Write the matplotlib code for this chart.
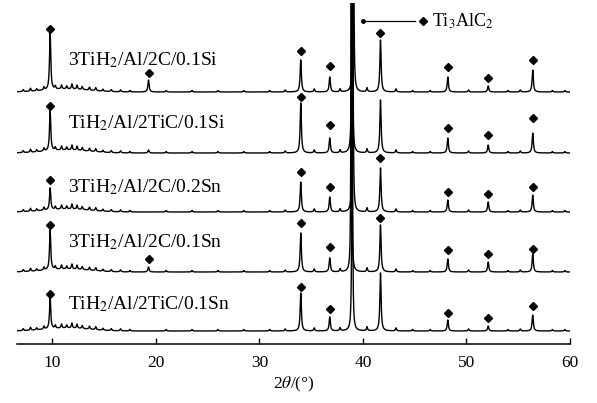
import numpy as np
import matplotlib.pyplot as plt

plt.rcParams['font.family'] = ['Liberation Serif', 'DejaVu Serif']
plt.rcParams['mathtext.fontset'] = 'stix'

# peak positions (2theta, deg) of Ti3AlC2
peak_pos = [9.8, 19.3, 34.0, 36.8, 41.7, 48.2, 52.1, 56.4]

samples = ['3TiH$_2$/Al/2C/0.1Si', 'TiH$_2$/Al/2TiC/0.1Si', '3TiH$_2$/Al/2C/0.2Sn',
           '3TiH$_2$/Al/2C/0.1Sn', 'TiH$_2$/Al/2TiC/0.1Sn']

# peak heights per sample (same order as peak_pos)
heights = [
    [57, 12, 32, 15, 52, 15, 6, 22],
    [41, 3, 50, 15, 53, 15, 8, 20],
    [22, 0, 30, 15, 44, 12, 10, 17],
    [40, 5, 39, 14, 47, 13, 10, 18],
    [31, 0, 38, 14, 58, 11, 5, 16],
]
# diamond marks above baseline (nan = not marked / hidden)
nan = np.nan
marks = [
    [63, 19, 41, 26, 59, 25, 14, 32],
    [47, nan, 56, 28, nan, 25, 18, 35],
    [32, nan, 40, 25, 54, 20, 18, 25],
    [47, 13, 49, 25, 54, 22, 18, 23],
    [37, nan, 44, 22, nan, 18, 13, 25],
]
# strongest reflection (off scale)
main_pos = [39.08, 38.95, 39.02, 38.88, 38.97]
main_h = 420

# small bumps / noise
minor_pos = [7.2, 7.9, 8.5, 9.2, 10.3, 10.9, 11.4, 11.9, 12.4, 12.9, 13.6, 14.2, 14.9,
             15.7, 16.6, 17.5, 21.0, 23.5, 26.0, 28.5, 31.0, 32.5, 35.3, 37.8, 40.4,
             43.2, 44.8, 46.5, 50.2, 54.0, 55.2, 58.3, 59.5]
minor_h = [2, 3, 2, 3, 3, 4, 3, 5, 4, 3, 3, 3, 2, 2, 2, 1.5, 1.5, 1.5, 1.5, 1.5, 1.5, 2,
           3, 3, 4, 3, 1.5, 1.5, 2, 1.5, 2, 1.5, 1.5]

offsets = [252, 191, 132, 72, 13]
label_y = [279, 216, 152, 97, 35]


def lor(x, c, h, g):
    return h * g**2 / ((x - c)**2 + g**2)


x = np.linspace(6.6, 60, 6000)

fig = plt.figure(figsize=(5.97, 4.03), dpi=100)
ax = fig.add_axes([17/597, 59/403, 553/597, 341/403])

for i in range(5):
    y = np.zeros_like(x) + 3 * np.exp(-((x - 11.5) / 3.0)**2)
    for p, h in zip(minor_pos, minor_h):
        y += lor(x, p, h, 0.06)
    for p, h in zip(peak_pos, heights[i]):
        y += lor(x, p, h, 0.07)
    y += lor(x, main_pos[i], main_h, 0.035)
    ax.plot(x, y + offsets[i], color='black', lw=1.0)
    ax.plot(peak_pos, np.array(marks[i]) + offsets[i], 'kD', ms=4)
    ax.text(11.5, label_y[i], samples[i], fontsize=14, ha='left', va='baseline')

# legend-like annotation for Ti3AlC2
ax.plot([40.0, 45.0], [323, 323], color='black', lw=0.9)
ax.plot([40.0], [323], 'ko', ms=2.5)
ax.plot([45.8], [323], 'kD', ms=4)
ax.text(46.7, 323, 'Ti$_3$AlC$_2$', fontsize=13, ha='left', va='center')

ax.set_xlim(6.6, 60)
ax.set_ylim(0, 341)
for s in ['top', 'left', 'right']:
    ax.spines[s].set_visible(False)
ax.spines['bottom'].set_linewidth(1.1)
ax.set_yticks([])
ax.set_xticks([10, 20, 30, 40, 50, 60])
ax.tick_params(axis='x', direction='in', length=4, width=1.0, labelsize=12.5, pad=8)
ax.set_xlabel(r'2$\theta$/(°)', fontsize=12.5, labelpad=3)

plt.savefig('out.png', dpi=100)
